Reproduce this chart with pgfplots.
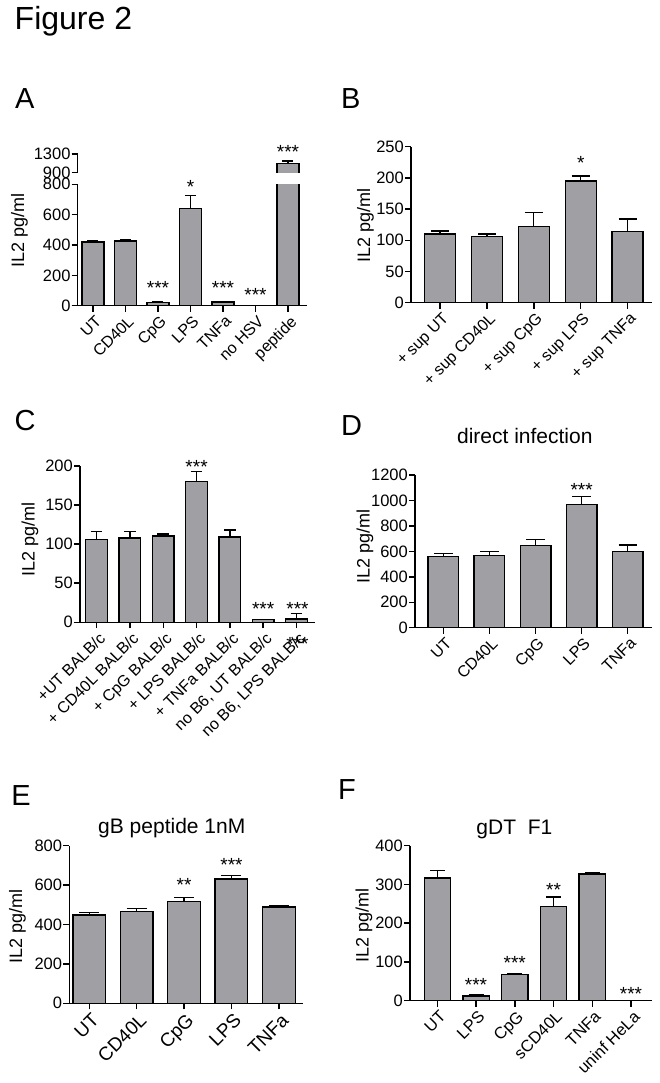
\documentclass[border=0pt]{standalone}
\usepackage{fontspec}
\setmainfont{Liberation Sans}
\usepackage{pgfplots}
\pgfplotsset{compat=1.18}
\definecolor{bargray}{RGB}{160,160,164}
\newcommand\fs[1]{\fontsize{#1}{#1}\selectfont}
\tikzset{starlbl/.style={font=\fs{19bp}, anchor=base}}
\pgfplotsset{
  gpanel/.style={
    scale only axis, anchor=south west,
    axis x line=bottom, axis y line=left,
    axis line style={-, line width=1.5bp, black},
    x axis line style={-}, y axis line style={-},
    tick align=outside, major tick length=6bp,
    tick style={line width=1.5bp, black},
    clip mode=individual,
    /pgf/number format/assume math mode=true,
    /pgf/number format/1000 sep={},
    scaled y ticks=false,
    yticklabel style={font=\fs{16.5bp}, inner sep=1bp},
    xticklabel style={font=\fs{16bp}, rotate=45, anchor=north east, inner sep=1bp, yshift=-2bp},
    ylabel style={font=\fs{18bp}, anchor=center},
    title style={font=\fs{21bp}, anchor=base},
  },
  gbar/.style 2 args={ybar, bar width=#1, bar shift=0pt, fill=bargray, draw=black, line width=1.3bp,
    error bars/.cd, y dir=plus, y explicit,
    error bar style={line width=1.3bp, black},
    error mark options={rotate=90, black, line width=1.3bp, mark size=#2}},
}
\begin{document}
\begin{tikzpicture}
\fill[white] (0,0) rectangle (660bp,-1083bp);
\path[use as bounding box] (0,0) rectangle (660bp,-1083bp);
\node[anchor=base west, font=\fs{32bp}, inner sep=0pt] at (14.5bp,-29.3bp) {Figure 2};
\node[anchor=base west, font=\fs{29bp}, inner sep=0pt] at (15bp,-108.3bp) {A};
\node[anchor=base west, font=\fs{29bp}, inner sep=0pt] at (341bp,-108.3bp) {B};
\node[anchor=base west, font=\fs{29bp}, inner sep=0pt] at (14.5bp,-430bp) {C};
\node[anchor=base west, font=\fs{29bp}, inner sep=0pt] at (341bp,-435bp) {D};
\node[anchor=base west, font=\fs{29bp}, inner sep=0pt] at (11.3bp,-805bp) {E};
\node[anchor=base west, font=\fs{29bp}, inner sep=0pt] at (338bp,-799bp) {F};

% ---------- A (lower part)
\begin{axis}[gpanel, at={(77.7bp,-305.7bp)}, width=229.3bp, height=121.4bp,
  xmin=-0.47, xmax=6.585, ymin=0, ymax=800, ytick={0,200,...,800},
  xtick={0,...,6}, xticklabels={UT,CD40L,CpG,LPS,TNFa,no HSV,peptide},
  ylabel={IL2 pg/ml}, ylabel style={at={(axis description cs:-0.254,0.617)}}]
\addplot[gbar={22bp}{5.5bp}] coordinates {(0,420) +- (0,12) (1,426) +- (0,8) (2,22) +- (0,3) (3,642) +- (0,84) (4,25) +- (0,3) (5,0) +- (0,0) (6,1100) +- (0,50)};
\node[starlbl] at (axis cs:2,73) {***};
\node[starlbl] at (axis cs:3,737) {*};
\node[starlbl] at (axis cs:4,73) {***};
\node[starlbl] at (axis cs:5,29) {***};
\end{axis}
% ---------- A (upper part of the broken axis: peptide bar continues)
\begin{axis}[gpanel, at={(77.7bp,-172.7bp)}, width=229.3bp, height=18.7bp,
  axis x line=none, xmin=-0.47, xmax=6.585, ymin=900, ymax=1300, ytick={900,1300}, xtick=\empty]
\addplot[fill=bargray, draw=black, line width=1.3bp, mark=none] coordinates {(5.6615,860) (5.6615,1100) (6.3385,1100) (6.3385,860)};
\addplot[black, line width=1.3bp, mark=none, error bars/.cd, y dir=plus, y explicit,
    error bar style={line width=1.3bp, black},
    error mark options={rotate=90, black, line width=1.3bp, mark size=5.5bp}] coordinates {(6,1100) +- (0,50)};
\node[starlbl] at (axis cs:6,1197) {***};
\end{axis}

% ---------- B
\begin{axis}[gpanel, at={(411bp,-302.7bp)}, width=240.7bp, height=156bp,
  xmin=-0.618, xmax=4.514, ymin=0, ymax=250, ytick={0,50,...,250},
  xtick={0,...,4}, xticklabels={+ sup UT,+ sup CD40L,+ sup CpG,+ sup LPS,+ sup TNFa},
  ylabel={IL2 pg/ml}, ylabel style={at={(axis description cs:-0.189,0.493)}}]
\addplot[gbar={31bp}{9bp}] coordinates {(0,110) +- (0,5) (1,106) +- (0,4) (2,122) +- (0,22) (3,195) +- (0,8) (4,114) +- (0,20)};
\node[starlbl] at (axis cs:3,214) {*};
\end{axis}

% ---------- C
\begin{axis}[gpanel, at={(80bp,-622.3bp)}, width=235bp, height=156.3bp,
  xmin=-0.5, xmax=6.556, ymin=0, ymax=200, ytick={0,50,...,200},
  xtick={0,...,6}, xticklabels={+UT BALB/c,+ CD40L BALB/c,+ CpG BALB/c,+ LPS BALB/c,+ TNFa BALB/c,{no B6, UT BALB/c},{no B6, LPS BALB/c}},
  xticklabel style={font=\fs{16bp}},
  ylabel={IL2 pg/ml}, ylabel style={at={(axis description cs:-0.213,0.527)}}]
\addplot[gbar={21.7bp}{5.8bp}] coordinates {(0,106) +- (0,10) (1,108) +- (0,8) (2,110.5) +- (0,2.5) (3,180) +- (0,12.7) (4,109) +- (0,9) (5,3.4) +- (0,0.5) (6,4.2) +- (0,6.8)};
\node[starlbl] at (axis cs:3,190.7) {***};
\node[starlbl] at (axis cs:5,8.6) {***};
\node[starlbl] at (axis cs:6.03,8.6) {***};
\node[starlbl] at (axis cs:6.03,-35.8) {***};
\end{axis}

% ---------- D
\begin{axis}[gpanel, at={(415bp,-627.7bp)}, width=236.7bp, height=152.7bp,
  xmin=-0.614, xmax=4.52, ymin=0, ymax=1200, ytick={0,200,...,1200},
  xtick={0,...,4}, xticklabels={UT,CD40L,CpG,LPS,TNFa},
  ylabel={IL2 pg/ml}, ylabel style={at={(axis description cs:-0.211,0.530)}},
  title={direct infection}, title style={at={(axis description cs:0.464,1.164)}}]
\addplot[gbar={30.7bp}{9.2bp}] coordinates {(0,558) +- (0,27) (1,566) +- (0,31) (2,644) +- (0,47) (3,967) +- (0,66) (4,597) +- (0,53)};
\node[starlbl] at (axis cs:3,1035) {***};
\end{axis}

% ---------- E
\begin{axis}[gpanel, at={(69.3bp,-1003.3bp)}, width=234bp, height=157.7bp,
  xmin=-0.422, xmax=4.515, ymin=0, ymax=800, ytick={0,200,...,800},
  xtick={0,...,4}, xticklabels={UT,CD40L,CpG,LPS,TNFa},
  xticklabel style={font=\fs{19bp}},
  ylabel={IL2 pg/ml}, ylabel style={at={(axis description cs:-0.221,0.486)}},
  title={gB peptide 1nM}, title style={at={(axis description cs:0.438,1.040)}}]
\addplot[gbar={32.7bp}{10bp}] coordinates {(0,448) +- (0,12) (1,467) +- (0,15) (2,517) +- (0,19) (3,631) +- (0,18) (4,488) +- (0,7)};
\node[starlbl] at (axis cs:2,567) {**};
\node[starlbl] at (axis cs:3,668) {***};
\end{axis}

% ---------- F
\begin{axis}[gpanel, at={(410bp,-1000.7bp)}, width=241.7bp, height=155bp,
  xmin=-0.705, xmax=5.534, ymin=0, ymax=400, ytick={0,100,...,400},
  xtick={0,...,5}, xticklabels={UT,LPS,CpG,sCD40L,TNFa,uninf HeLa},
  xticklabel style={font=\fs{16.5bp}},
  ylabel={IL2 pg/ml}, ylabel style={at={(axis description cs:-0.190,0.483)}},
  title={gDT\ \ F1}, title style={at={(axis description cs:0.432,1.037)}}]
\addplot[gbar={26.3bp}{7.5bp}] coordinates {(0,317) +- (0,19) (1,12) +- (0,4.5) (2,68) +- (0,2.7) (3,244) +- (0,24) (4,327) +- (0,2.6) (5,0) +- (0,0)};
\node[starlbl] at (axis cs:1,23.7) {***};
\node[starlbl] at (axis cs:2,80.5) {***};
\node[starlbl] at (axis cs:3,269) {**};
\node[starlbl] at (axis cs:5,0.5) {***};
\end{axis}
\end{tikzpicture}
\end{document}
